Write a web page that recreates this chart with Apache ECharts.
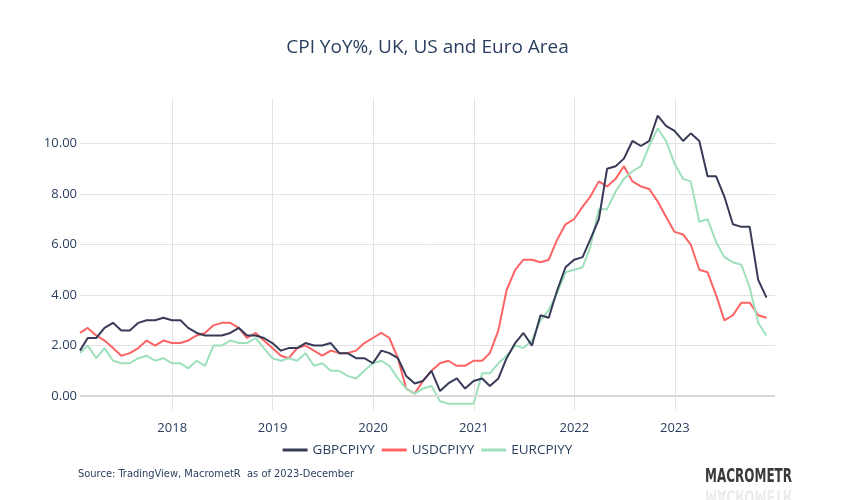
<!DOCTYPE html>
<html>
<head>
<meta charset="utf-8">
<script src="https://cdn.jsdelivr.net/npm/echarts@6/dist/echarts.min.js"></script>
<style>
  html, body { margin: 0; padding: 0; background: #fff; }
  #chart { width: 855px; height: 500px; }
</style>
</head>
<body>
<div id="chart"></div>
<script>
// monthly, Jan 2017 .. Nov 2023
const startYear = 2017
const gbp = [
  1.8, 2.3, 2.3, 2.7, 2.9, 2.6, 2.6, 2.9, 3.0, 3.0, 3.1, 3.0,
  3.0, 2.7, 2.5, 2.4, 2.4, 2.4, 2.5, 2.7, 2.4, 2.4, 2.3, 2.1,
  1.8, 1.9, 1.9, 2.1, 2.0, 2.0, 2.1, 1.7, 1.7, 1.5, 1.5, 1.3,
  1.8, 1.7, 1.5, 0.8, 0.5, 0.6, 1.0, 0.2, 0.5, 0.7, 0.3, 0.6,
  0.7, 0.4, 0.7, 1.5, 2.1, 2.5, 2.0, 3.2, 3.1, 4.2, 5.1, 5.4,
  5.5, 6.2, 7.0, 9.0, 9.1, 9.4, 10.1, 9.9, 10.1, 11.1, 10.7, 10.5,
  10.1, 10.4, 10.1, 8.7, 8.7, 7.9, 6.8, 6.7, 6.7, 4.6, 3.9
]
const usd = [
  2.5, 2.7, 2.4, 2.2, 1.9, 1.6, 1.7, 1.9, 2.2, 2.0, 2.2, 2.1,
  2.1, 2.2, 2.4, 2.5, 2.8, 2.9, 2.9, 2.7, 2.3, 2.5, 2.2, 1.9,
  1.6, 1.5, 1.9, 2.0, 1.8, 1.6, 1.8, 1.7, 1.7, 1.8, 2.1, 2.3,
  2.5, 2.3, 1.5, 0.3, 0.1, 0.6, 1.0, 1.3, 1.4, 1.2, 1.2, 1.4,
  1.4, 1.7, 2.6, 4.2, 5.0, 5.4, 5.4, 5.3, 5.4, 6.2, 6.8, 7.0,
  7.5, 7.9, 8.5, 8.3, 8.6, 9.1, 8.5, 8.3, 8.2, 7.7, 7.1, 6.5,
  6.4, 6.0, 5.0, 4.9, 4.0, 3.0, 3.2, 3.7, 3.7, 3.2, 3.1
]
const eur = [
  1.7, 2.0, 1.5, 1.9, 1.4, 1.3, 1.3, 1.5, 1.6, 1.4, 1.5, 1.3,
  1.3, 1.1, 1.4, 1.2, 2.0, 2.0, 2.2, 2.1, 2.1, 2.3, 1.9, 1.5,
  1.4, 1.5, 1.4, 1.7, 1.2, 1.3, 1.0, 1.0, 0.8, 0.7, 1.0, 1.3,
  1.4, 1.2, 0.7, 0.3, 0.1, 0.3, 0.4, -0.2, -0.3, -0.3, -0.3, -0.3,
  0.9, 0.9, 1.3, 1.6, 2.0, 1.9, 2.2, 3.0, 3.4, 4.1, 4.9, 5.0,
  5.1, 5.9, 7.4, 7.4, 8.1, 8.6, 8.9, 9.1, 9.9, 10.6, 10.1, 9.2,
  8.6, 8.5, 6.9, 7.0, 6.1, 5.5, 5.3, 5.2, 4.3, 2.9, 2.4
]
const yTicks = [0, 2, 4, 6, 8, 10]
const xYears = [2018, 2019, 2020, 2021, 2022, 2023]

// month-end dates as timestamps
const dates = gbp.map((_, i) => {
  const y = startYear + Math.floor(i / 12)
  const m = i % 12
  return Date.UTC(y, m + 1, 0)
})
const yearTicks = xYears.map(y => Date.UTC(y, 0, 1))
const pair = arr => arr.map((v, i) => [dates[i], v])

const textColor = '#2a3f5f'
const chart = echarts.init(document.getElementById('chart'))

const lineSeries = (name, data, color) => ({
  name,
  type: 'line',
  data: pair(data),
  showSymbol: false,
  symbol: 'none',
  lineStyle: { color, width: 2 },
  itemStyle: { color },
  emphasis: { disabled: true }
})

const logoFont = { text: 'MACROMETR', fill: '#3a3a3a', fontSize: 20, fontWeight: 'bold', fontFamily: 'DejaVu Sans' }

chart.setOption({
  animation: false,
  title: {
    text: 'CPI YoY%, UK, US and Euro Area',
    left: 'center',
    top: 33,
    textStyle: { color: textColor, fontSize: 19, fontWeight: 'normal', fontFamily: 'Open Sans' }
  },
  grid: { left: 80, right: 80, top: 98, bottom: 90 },
  xAxis: {
    type: 'value',
    min: dates[0],
    max: Date.UTC(2023, 11, 31),
    axisLine: { show: false },
    axisTick: { show: false, customValues: yearTicks },
    axisLabel: {
      customValues: yearTicks,
      color: textColor,
      fontSize: 13,
      fontFamily: 'Open Sans',
      margin: 12,
      formatter: v => String(new Date(v).getUTCFullYear())
    },
    splitLine: { show: true, lineStyle: { color: '#e3e3e3', width: 1 } }
  },
  yAxis: {
    type: 'value',
    min: -0.55,
    max: 11.8,
    axisLine: { show: false },
    axisTick: { show: false, customValues: yTicks },
    axisLabel: {
      customValues: yTicks,
      color: textColor,
      fontSize: 13,
      fontFamily: 'Open Sans',
      margin: 3,
      formatter: v => v.toFixed(2)
    },
    splitLine: { show: true, lineStyle: { color: '#e3e3e3', width: 1 } }
  },
  legend: {
    bottom: 38,
    left: 'center',
    itemWidth: 25,
    itemHeight: 3,
    itemGap: 7,
    icon: 'rect',
    textStyle: { color: textColor, fontSize: 13.5, fontFamily: 'Open Sans' },
    data: ['GBPCPIYY', 'USDCPIYY', 'EURCPIYY']
  },
  series: [
    Object.assign(lineSeries('GBPCPIYY', gbp, '#383b57'), {
      markLine: {
        silent: true,
        symbol: 'none',
        label: { show: false },
        lineStyle: { color: '#d9d9d9', width: 2, type: 'solid' },
        data: [{ yAxis: 0 }]
      },
      z: 4
    }),
    lineSeries('USDCPIYY', usd, '#fd6463'),
    lineSeries('EURCPIYY', eur, '#9ee0bc')
  ],
  graphic: [
    {
      type: 'text', left: 78, top: 469,
      style: { text: 'Source: TradingView, MacrometR  as of 2023-December', fill: textColor, fontSize: 11, fontFamily: 'DejaVu Sans Condensed, Open Sans' }
    },
    {
      type: 'text', x: 705, y: 467, scaleX: 0.6,
      style: logoFont
    },
    {
      type: 'text', x: 705, y: 505, scaleX: 0.6, scaleY: -1,
      style: Object.assign({}, logoFont, { opacity: 0.1 })
    }
  ]
})
</script>
</body>
</html>
